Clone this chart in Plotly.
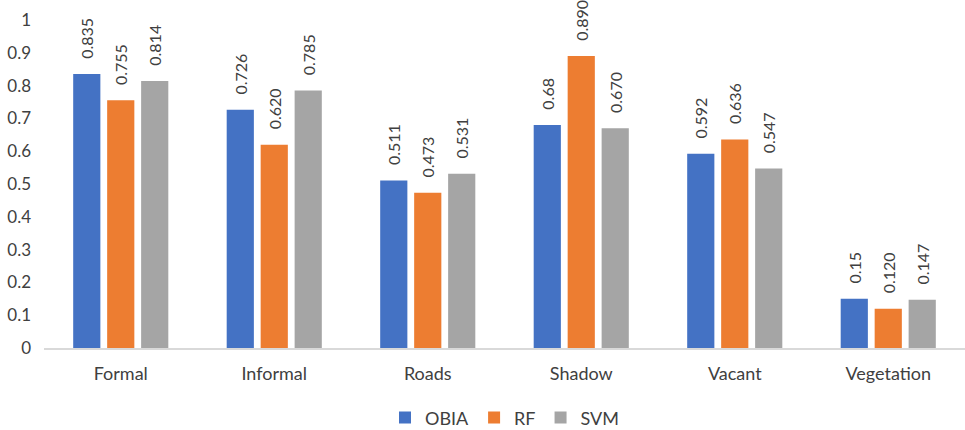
import plotly.graph_objects as go

categories = ["Formal", "Informal", "Roads", "Shadow", "Vacant", "Vegetation"]
obia = [0.835, 0.726, 0.511, 0.68, 0.592, 0.15]
rf = [0.755, 0.620, 0.473, 0.890, 0.636, 0.120]
svm = [0.814, 0.785, 0.531, 0.670, 0.547, 0.147]
obia_lbl = ["0.835", "0.726", "0.511", "0.68", "0.592", "0.15"]
rf_lbl = ["0.755", "0.620", "0.473", "0.890", "0.636", "0.120"]
svm_lbl = ["0.814", "0.785", "0.531", "0.670", "0.547", "0.147"]
y_ticks = [0, 0.1, 0.2, 0.3, 0.4, 0.5, 0.6, 0.7, 0.8, 0.9, 1]
y_tick_text = ["0", "0.1", "0.2", "0.3", "0.4", "0.5", "0.6", "0.7", "0.8", "0.9", "1"]

FONT = "Lato"
PAD = "\u00a0\u00a0\u00a0"
series = [("OBIA", obia, obia_lbl, "#4472C4"),
          ("RF", rf, rf_lbl, "#ED7D31"),
          ("SVM", svm, svm_lbl, "#A5A5A5")]

fig = go.Figure()
for name, vals, lbls, col in series:
    fig.add_trace(go.Bar(
        name=name, x=categories, y=vals, marker_color=col,
        marker_line_width=0,
        text=[PAD + l for l in lbls], textposition="outside", textangle=-90,
        constraintext="none",
        textfont=dict(family=FONT, size=16, color="#404040"),
        cliponaxis=False,
    ))

fig.update_layout(
    width=965, height=430,
    margin=dict(l=44, r=0, t=20, b=82, autoexpand=False),
    paper_bgcolor="white", plot_bgcolor="white",
    barmode="group", bargap=0.336, bargroupgap=0.2,
    font=dict(family=FONT, size=16, color="#404040"),
    legend=dict(orientation="h", x=0.5, xanchor="center", y=-0.213, yanchor="middle",
                font=dict(family=FONT, size=18, color="#404040"),
                itemwidth=30, traceorder="normal"),
    showlegend=True,
)
fig.update_xaxes(showgrid=False, showline=True, linecolor="#D9D9D9", linewidth=2,
                 ticks="", ticklabelstandoff=8,
                 tickfont=dict(family=FONT, size=18, color="#404040"))
fig.update_yaxes(range=[0, 1], tickvals=y_ticks, ticktext=y_tick_text, showgrid=False,
                 zeroline=False, showline=False, ticks="", ticklabelstandoff=12,
                 tickfont=dict(family=FONT, size=17, color="#404040"))

fig.write_html("out.html", config={"displayModeBar": False},
               post_script="document.body.style.margin='0';document.body.style.overflow='hidden';")
